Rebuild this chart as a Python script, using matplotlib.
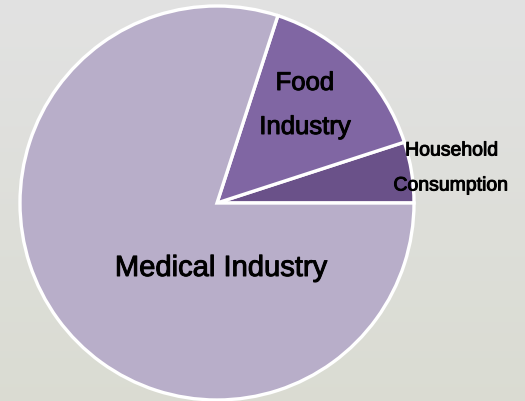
import matplotlib
matplotlib.use('Agg')
import matplotlib.pyplot as plt
import matplotlib.patheffects as pe
import numpy as np

# share of use by sector (percent)
sectors = ["Household\nConsumption", "Food\nIndustry", "Medical Industry"]
shares = [5, 15, 80]
colors = ["#6A5189", "#8066A3", "#B8AEC9"]

plt.rcParams['font.family'] = ['Liberation Sans', 'DejaVu Sans']

W, H = 525, 402
fig = plt.figure(figsize=(W / 100, H / 100), dpi=100)
ax = fig.add_axes([0, 0, 1, 1])
ax.axis('off')

# soft grey backdrop, slightly warmer towards the bottom
top = np.array([0.886, 0.886, 0.886])
bottom = np.array([0.855, 0.862, 0.825])
t = np.linspace(0, 1, 200)[:, None]
grad = top * (1 - t) + bottom * t
ax.imshow(grad[:, None, :].repeat(2, axis=1), extent=[0, W, 0, H],
          aspect='auto', zorder=0, origin='upper')

wedges, _ = ax.pie(shares, colors=colors, startangle=0, counterclock=True,
                   center=(217, 198), radius=197,
                   wedgeprops=dict(edgecolor='white', linewidth=2.4))
for w in wedges:
    w.set_zorder(2)

# slightly heavier strokes on the labels
bold = [pe.withStroke(linewidth=0.7, foreground='black')]
lab = dict(ha='center', va='center', zorder=3, path_effects=bold)

ax.text(305, 318, "Food", fontsize=18.5, **lab)
ax.text(305, 274, "Industry", fontsize=18.5, **lab)
ax.text(452, 250, "Household", fontsize=14, **lab)
ax.text(451, 215, "Consumption", fontsize=14, **lab)
ax.text(221, 133, "Medical Industry", fontsize=21, **lab)

ax.set_xlim(0, W)
ax.set_ylim(0, H)
ax.set_aspect('equal')

fig.savefig("out.png", dpi=100)
